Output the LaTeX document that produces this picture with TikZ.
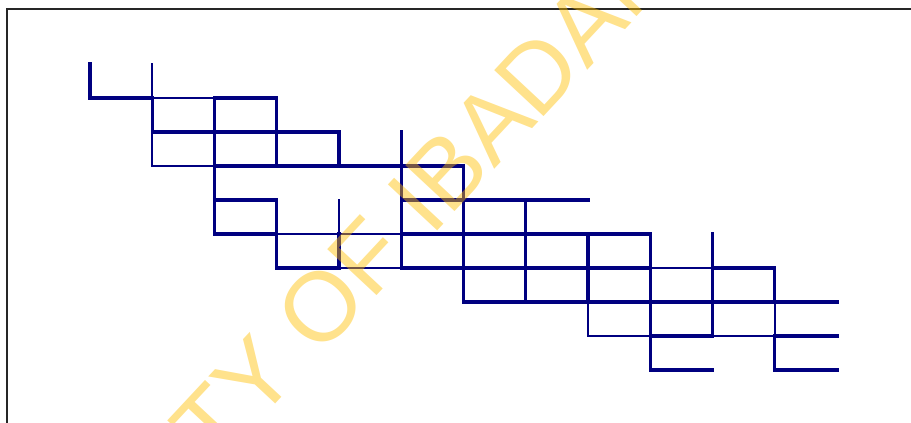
\documentclass[tikz,border=0pt]{standalone}
\usepackage{fontspec}
\newfontfamily\markfont{Liberation Sans}
\usepackage{tikz}
\definecolor{pathnavy}{RGB}{0,0,128}
\definecolor{markgold}{RGB}{255,190,0}

\begin{document}
\begin{tikzpicture}[
  x=31.125pt, y=-17pt,
  heavy/.style={draw=pathnavy, line width=1.55pt, line cap=rect},
  light/.style={draw=pathnavy, line width=1.05pt, line cap=rect},
  frame/.style={draw=black!85, line width=0.6pt},
  stamp/.style={font=\markfont\fontsize{49pt}{49pt}\selectfont, text=markgold,
                text opacity=0.45, inner sep=0pt, rotate=47},
]
\useasboundingbox (-45pt,32pt) rectangle (410.5pt,-179.5pt);

% Rahmen
\draw[frame] (-41.5pt,-185pt) -- (-41.5pt,27.5pt) -- (415pt,27.5pt);

% doppelte Schritte
\draw[heavy] (0,0) -- (0,1) -- (1,1);
\draw[heavy] (1,1) -- (1,2);
\draw[heavy] (2,1) -- (3,1);
\draw[heavy] (2,1) -- (2,3);
\draw[heavy] (3,1) -- (3,3);
\draw[heavy] (1,2) -- (4,2) -- (4,3);
\draw[heavy] (2,3) -- (6,3) -- (6,7);
\draw[heavy] (2,4) -- (3,4) -- (3,6);
\draw[heavy] (2,4) -- (2,5) -- (3,5);
\draw[heavy] (5,2) -- (5,6);
\draw[heavy] (5,4) -- (8,4);
\draw[heavy] (7,4) -- (7,7);
\draw[heavy] (5,5) -- (9,5);
\draw[heavy] (4,5) -- (4,6);
\draw[heavy] (3,6) -- (4,6);
\draw[heavy] (5,6) -- (9,6);
\draw[heavy] (10,6) -- (11,6) -- (11,7);
\draw[heavy] (6,7) -- (12,7);
\draw[heavy] (8,5) -- (8,7);
\draw[heavy] (9,5) -- (9,9) -- (10,9);
\draw[heavy] (10,5) -- (10,7);
\draw[heavy] (9,8) -- (10,8);
\draw[heavy] (11,8) -- (11,9) -- (12,9);
\draw[heavy] (11,8) -- (12,8);

% einfache Schritte
\draw[light] (1,0) -- (1,1);
\draw[light] (1,1) -- (2,1);
\draw[light] (1,2) -- (1,3) -- (2,3);
\draw[light] (2,3) -- (2,4);
\draw[light] (3,5) -- (5,5);
\draw[light] (4,4) -- (4,5);
\draw[light] (4,6) -- (5,6);
\draw[light] (9,6) -- (10,6);
\draw[light] (8,7) -- (8,8) -- (9,8);
\draw[light] (10,7) -- (10,8) -- (11,8);
\draw[light] (11,7) -- (11,8);

% Wasserzeichen
\node[stamp] (mark) at (87.75pt,-150.95pt) {UNIVERSITY OF IBADAN};

\end{tikzpicture}
\end{document}
